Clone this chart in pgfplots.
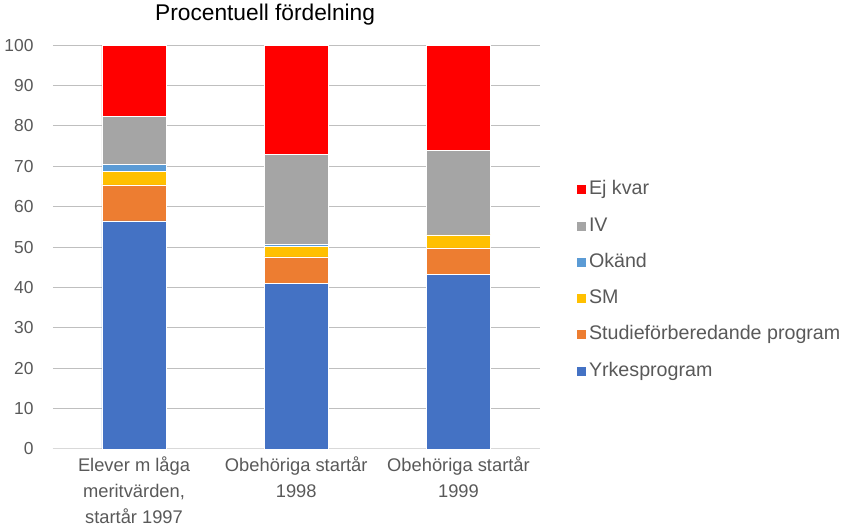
\documentclass[border=0pt]{standalone}
\usepackage{pgfplots}
\pgfplotsset{compat=1.18}
\usepackage{fontspec}
\setmainfont{Liberation Sans}
\definecolor{cYrke}{HTML}{4472C4}
\definecolor{cStud}{HTML}{ED7D31}
\definecolor{cSM}{HTML}{FFC000}
\definecolor{cOk}{HTML}{5B9BD5}
\definecolor{cIV}{HTML}{A5A5A5}
\definecolor{cEj}{HTML}{FF0000}
\definecolor{txt}{HTML}{595959}
\definecolor{grid}{HTML}{D9D9D9}
\begin{document}
\begin{tikzpicture}
\begin{axis}[
  scale only axis,
  width=364pt, height=302pt,
  clip=false,
  ybar stacked, bar width=48pt,
  xmin=-0.5, xmax=2.5, ymin=0, ymax=100,
  ytick={0,10,...,100},
  xtick={0,1,2},
  xticklabels={{Elever m låga\\meritvärden,\\startår 1997},{Obehöriga startår\\1998},{Obehöriga startår\\1999}},
  xticklabel style={align=center, text=txt, font=\fontsize{13.7}{19.5}\selectfont, yshift=-2pt},
  yticklabel style={text=txt, font=\fontsize{13}{15}\selectfont, xshift=-11pt},
  /pgf/number format/assume math mode=true,
  major tick length=0pt,
  ymajorgrids, grid style={grid, line width=0.75pt},
  axis x line*=bottom, axis y line*=left,
  x axis line style={grid, line width=0.75pt, -},
  y axis line style={draw=none},
  legend style={at={(rel axis cs:1.074,0.418)}, anchor=west, draw=none, fill=none,
    font=\fontsize{14.7}{17}\selectfont, text=txt, row sep=9.1pt, inner sep=0pt,
    nodes={inner sep=2pt, text height=11pt, text depth=3pt}, cells={anchor=west}},
  legend cell align=left,
  reverse legend,
  legend image code/.code={\fill[#1] (0pt,-3.75pt) rectangle (7.5pt,3.75pt);},
  every axis plot/.append style={draw=white, line width=0.3pt},
]
\addplot[fill=cYrke] coordinates {(0,56.5) (1,41.1) (2,43.2)};
\addlegendentry{Yrkesprogram}
\addplot[fill=cStud] coordinates {(0,8.9) (1,6.5) (2,6.6)};
\addlegendentry{Studieförberedande program}
\addplot[fill=cSM] coordinates {(0,3.3) (1,2.5) (2,3.2)};
\addlegendentry{SM}
\addplot[fill=cOk] coordinates {(0,1.8) (1,0.5) (2,0)};
\addlegendentry{Okänd}
\addplot[fill=cIV] coordinates {(0,11.8) (1,22.4) (2,21.0)};
\addlegendentry{IV}
\addplot[fill=cEj] coordinates {(0,17.7) (1,27.0) (2,26.0)};
\addlegendentry{Ej kvar}
\node[font=\fontsize{17}{19}\selectfont, text=black, anchor=base] at (rel axis cs:0.436,1.06) {Procentuell fördelning};
\end{axis}
\end{tikzpicture}
\end{document}
